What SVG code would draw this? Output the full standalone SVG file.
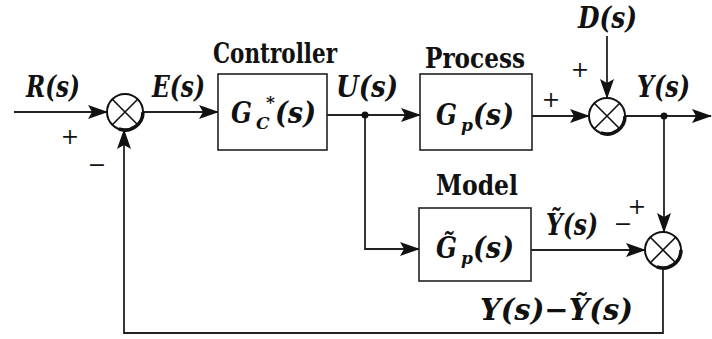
<svg xmlns="http://www.w3.org/2000/svg" width="712" height="339" viewBox="0 0 712 339">
<style>
.m{font-family:'DejaVu Serif',serif;font-weight:bold;font-style:italic;font-size:30px;fill:#111}
.s{font-family:'DejaVu Serif',serif;font-weight:bold;font-style:italic;font-size:17px;fill:#111}
.lbl{font-family:'DejaVu Serif',serif;font-weight:bold;font-size:28px;fill:#111}
.sg{font-family:'DejaVu Serif',serif;font-size:22px;fill:#111;text-anchor:middle}
.box{fill:#fff;stroke:#222;stroke-width:1.6}
.sum{fill:#fff;stroke:#111;stroke-width:2}
.sh{fill:none;stroke:#111;stroke-width:3.5}
.x{stroke:#111;stroke-width:1.6}
.c{fill:none;stroke:#222;stroke-width:1.8}
</style>
<defs>
<marker id="arr" markerWidth="20" markerHeight="14" refX="19" refY="7" orient="auto" markerUnits="userSpaceOnUse">
<path d="M0,0 L20,7 L0,14 L4,7 Z" fill="#111"/>
</marker>
</defs>
<rect width="712" height="339" fill="#fff"/>
<g id="connectors">
<path class="c" d="M14,112 H107" marker-end="url(#arr)"/>
<path class="c" d="M143,112 H218" marker-end="url(#arr)"/>
<path class="c" d="M327,115 H420" marker-end="url(#arr)"/>
<path class="c" d="M365,115 V249 H419" marker-end="url(#arr)"/>
<path class="c" d="M532,116 H589" marker-end="url(#arr)"/>
<path class="c" d="M607,36 V98" marker-end="url(#arr)"/>
<path class="c" d="M625,116 H711" marker-end="url(#arr)"/>
<path class="c" d="M664,116 V232" marker-end="url(#arr)"/>
<path class="c" d="M531,250 H645" marker-end="url(#arr)"/>
<path class="c" d="M663,268 V333 H124 V130" marker-end="url(#arr)"/>
<circle cx="365" cy="115" r="3.5" fill="#111"/>
<circle cx="664" cy="116" r="3.5" fill="#111"/>
</g>
<g id="sum1">
<circle class="sum" cx="125" cy="112" r="18"/>
<path class="sh" d="M143,112 A18,18 0 0 1 118.8,128.9"/>
<path class="x" d="M112.3,99.3 L137.7,124.7 M137.7,99.3 L112.3,124.7"/>
<text class="sg" x="70" y="144">+</text>
<text class="sg" x="97" y="172">−</text>
</g>
<g id="sum2">
<circle class="sum" cx="607" cy="116" r="18"/>
<path class="sh" d="M625,116 A18,18 0 0 1 600.8,132.9"/>
<path class="x" d="M594.3,103.3 L619.7,128.7 M619.7,103.3 L594.3,128.7"/>
<text class="sg" x="551" y="107">+</text>
<text class="sg" x="580" y="77">+</text>
</g>
<g id="sum3">
<circle class="sum" cx="663" cy="250" r="18"/>
<path class="sh" d="M681,250 A18,18 0 0 1 656.8,266.9"/>
<path class="x" d="M650.3,237.3 L675.7,262.7 M675.7,237.3 L650.3,262.7"/>
<text class="sg" x="623" y="231" font-size="20">−</text>
<text class="sg" x="637" y="214" font-size="20">+</text>
</g>
<g id="controller">
<text class="lbl" x="213" y="63" textLength="124" lengthAdjust="spacingAndGlyphs">Controller</text>
<rect class="box" x="218" y="74" width="109" height="76"/>
<text class="m"><tspan x="231" y="123" textLength="21" lengthAdjust="spacingAndGlyphs">G</tspan><tspan class="s" x="256" y="129">C</tspan><tspan class="s" x="266" y="108">*</tspan><tspan x="275" y="123" textLength="41" lengthAdjust="spacingAndGlyphs">(s)</tspan></text>
</g>
<g id="process">
<text class="lbl" x="425" y="68" textLength="100" lengthAdjust="spacingAndGlyphs">Process</text>
<rect class="box" x="420" y="74" width="112" height="76"/>
<text class="m"><tspan x="436" y="125" textLength="21" lengthAdjust="spacingAndGlyphs">G</tspan><tspan class="s" x="461" y="131">p</tspan><tspan x="473" y="125" textLength="41" lengthAdjust="spacingAndGlyphs">(s)</tspan></text>
</g>
<g id="model">
<text class="lbl" x="436" y="195" textLength="82" lengthAdjust="spacingAndGlyphs">Model</text>
<rect class="box" x="419" y="208" width="112" height="73"/>
<text class="m"><tspan x="436" y="258" textLength="21" lengthAdjust="spacingAndGlyphs">G̃</tspan><tspan class="s" x="461" y="264">p</tspan><tspan x="473" y="258" textLength="41" lengthAdjust="spacingAndGlyphs">(s)</tspan></text>
</g>
<g id="signals">
<text class="m" x="26" y="97" textLength="54" lengthAdjust="spacingAndGlyphs">R(s)</text>
<text class="m" x="152" y="97" textLength="53" lengthAdjust="spacingAndGlyphs">E(s)</text>
<text class="m" x="336" y="97" textLength="62" lengthAdjust="spacingAndGlyphs">U(s)</text>
<text class="m" x="637" y="97" textLength="53" lengthAdjust="spacingAndGlyphs">Y(s)</text>
<text class="m" x="578" y="28" textLength="59" lengthAdjust="spacingAndGlyphs">D(s)</text>
<text class="m" x="546" y="235" textLength="52" lengthAdjust="spacingAndGlyphs">Ỹ(s)</text>
<text class="m" x="480" y="320" textLength="153" lengthAdjust="spacingAndGlyphs">Y(s)−Ỹ(s)</text>
</g>
</svg>
